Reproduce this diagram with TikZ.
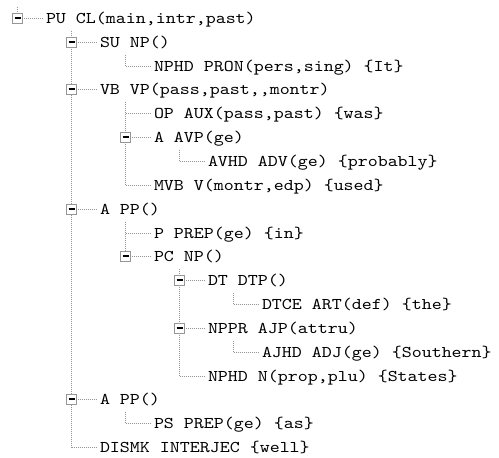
\documentclass[tikz,border=0pt]{standalone}
\usepackage{fontspec}
\newfontfamily\treefont{lmmono10-regular}[Extension=.otf,FakeStretch=1.16]
\definecolor{dotgray}{RGB}{150,150,150}
\definecolor{boxgray}{RGB}{150,150,150}
\tikzset{
  dotline/.style={draw=dotgray,line width=1pt,dash pattern=on 1pt off 1pt},
  lbl/.style={anchor=base west,inner sep=0pt,outer sep=0pt,font=\treefont\fontsize{16.4}{20}\selectfont},
  togbox/.style={draw=boxgray,fill=white,line width=1pt,minimum width=10pt,minimum height=10pt,inner sep=0pt,outer sep=0pt,
    path picture={\draw[black,line width=2pt] ([xshift=-3pt,yshift=0.5pt]path picture bounding box.center) -- ([xshift=3pt,yshift=0.5pt]path picture bounding box.center);}},
}
\begin{document}
\begin{tikzpicture}[x=1pt,y=1pt]
\useasboundingbox (0,0) rectangle (499,-458);
% elbow / box coordinates (x = 17.5 + 54*level)
\coordinate (e0) at (17.5,-18.5);
\coordinate (e1) at (71.5,-42.5);
\coordinate (e2) at (125.5,-66.5);
\coordinate (e3) at (71.5,-89.5);
\coordinate (e4) at (125.5,-113.5);
\coordinate (e5) at (125.5,-137.5);
\coordinate (e6) at (179.5,-161.5);
\coordinate (e7) at (125.5,-185.5);
\coordinate (e8) at (71.5,-209.5);
\coordinate (e9) at (125.5,-233.5);
\coordinate (e10) at (125.5,-256.5);
\coordinate (e11) at (179.5,-280.5);
\coordinate (e12) at (233.5,-304.5);
\coordinate (e13) at (179.5,-328.5);
\coordinate (e14) at (233.5,-352.5);
\coordinate (e15) at (179.5,-376.5);
\coordinate (e16) at (71.5,-399.5);
\coordinate (e17) at (125.5,-423.5);
\coordinate (e18) at (71.5,-447.5);
% starts of vertical lines (half a row below the parent)
\coordinate (r0) at (17.5,-6.5);
\coordinate (s0) at (71.5,-30.5);
\coordinate (s1) at (125.5,-54.5);
\coordinate (s3) at (125.5,-101.5);
\coordinate (s5) at (179.5,-149.5);
\coordinate (s8) at (125.5,-221.5);
\coordinate (s10) at (179.5,-268.5);
\coordinate (s11) at (233.5,-292.5);
\coordinate (s13) at (233.5,-340.5);
\coordinate (s16) at (125.5,-411.5);
% labels
\node[lbl] (t0) at (46,-23.5) {PU CL(main,intr,past)};
\node[lbl] (t1) at (100,-47.5) {SU NP()};
\node[lbl] (t2) at (154,-71.5) {NPHD PRON(pers,sing) \{It\}};
\node[lbl] (t3) at (100,-94.5) {VB VP(pass,past,,montr)};
\node[lbl] (t4) at (154,-118.5) {OP AUX(pass,past) \{was\}};
\node[lbl] (t5) at (154,-142.5) {A AVP(ge)};
\node[lbl] (t6) at (208,-166.5) {AVHD ADV(ge) \{probably\}};
\node[lbl] (t7) at (154,-190.5) {MVB V(montr,edp) \{used\}};
\node[lbl] (t8) at (100,-214.5) {A PP()};
\node[lbl] (t9) at (154,-238.5) {P PREP(ge) \{in\}};
\node[lbl] (t10) at (154,-261.5) {PC NP()};
\node[lbl] (t11) at (208,-285.5) {DT DTP()};
\node[lbl] (t12) at (262,-309.5) {DTCE ART(def) \{the\}};
\node[lbl] (t13) at (208,-333.5) {NPPR AJP(attru)};
\node[lbl] (t14) at (262,-357.5) {AJHD ADJ(ge) \{Southern\}};
\node[lbl] (t15) at (208,-381.5) {NPHD N(prop,plu) \{States\}};
\node[lbl] (t16) at (100,-404.5) {A PP()};
\node[lbl] (t17) at (154,-428.5) {PS PREP(ge) \{as\}};
\node[lbl] (t18) at (100,-452.5) {DISMK INTERJEC \{well\}};
% vertical lines
\draw[dotline] (r0) -- (e0);
\draw[dotline] (s0) -- (e18);
\draw[dotline] (s1) -- (e2);
\draw[dotline] (s3) -- (e7);
\draw[dotline] (s5) -- (e6);
\draw[dotline] (s8) -- (e10);
\draw[dotline] (s10) -- (e15);
\draw[dotline] (s11) -- (e12);
\draw[dotline] (s13) -- (e14);
\draw[dotline] (s16) -- (e17);
% horizontal lines
\foreach \i in {0,...,18}{
  \draw[dotline] (e\i) -- ([xshift=-3pt]e\i -| t\i.west);
}
% toggle boxes
\foreach \i in {0,1,3,5,8,10,11,13,16}{
  \node[togbox] (b\i) at (e\i) {};
}
\end{tikzpicture}
\end{document}
